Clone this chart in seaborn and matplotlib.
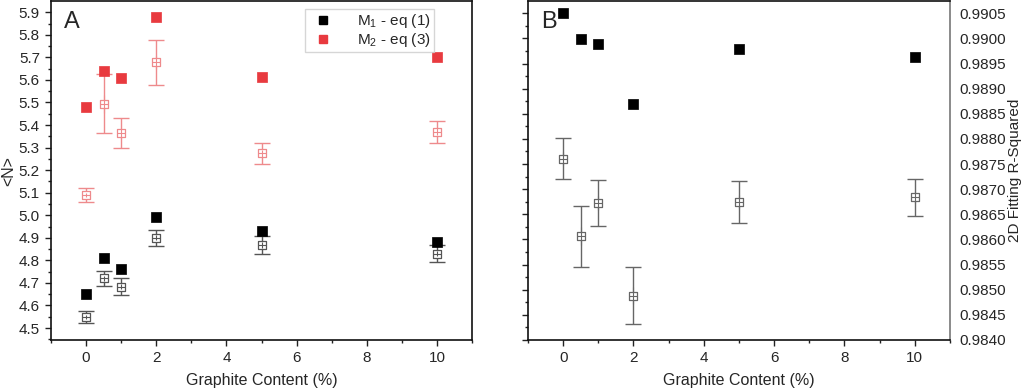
import numpy as np
import pandas as pd
import matplotlib
matplotlib.use("Agg")
import matplotlib.pyplot as plt
from matplotlib.ticker import MultipleLocator, FormatStrFormatter
from matplotlib.lines import Line2D
import seaborn as sns

# ---------------- datos ----------------
graphite = [0, 0.5, 1, 2, 5, 10]

# Panel A: <N>
m1_fill = [4.65, 4.81, 4.76, 4.99, 4.93, 4.88]
m1_fill_err = [0.008, 0.012, 0.012, 0.012, 0.012, 0.012]
m1_open = [4.55, 4.72, 4.683, 4.90, 4.868, 4.83]
m1_open_err = [0.027, 0.032, 0.037, 0.035, 0.038, 0.037]

m2_fill = [5.48, 5.64, 5.61, 5.88, 5.613, 5.70]
m2_fill_err = [0.008, 0.015, 0.015, 0.015, 0.012, 0.012]
m2_open = [5.09, 5.494, 5.363, 5.678, 5.274, 5.37]
m2_open_err = [0.03, 0.13, 0.067, 0.10, 0.047, 0.05]

# Panel B: R^2
r2_fill = [0.99051, 0.98998, 0.98988, 0.98869, 0.98978, 0.98963]
r2_fill_err = [0.00002, 0.00004, 0.00004, 0.00005, 0.00004, 0.00004]
r2_open = [0.98761, 0.98606, 0.98672, 0.98488, 0.98675, 0.98684]
r2_open_err = [0.0004, 0.0006, 0.00046, 0.00057, 0.00042, 0.00037]

RED = "#e83a3f"
LRED = "#ee8a8c"
GREY = "#6e6e6e"

sns.set_style("ticks")
plt.rcParams['font.family'] = ['Liberation Sans', 'DejaVu Sans']
plt.rcParams['mathtext.fontset'] = 'custom'
plt.rcParams['mathtext.rm'] = 'Liberation Sans'
plt.rcParams['mathtext.it'] = 'Liberation Sans'

fig = plt.figure(figsize=(10.24, 3.92), dpi=100)
axA = fig.add_axes([0.0498, 0.1327, 0.4112, 0.8643])
axB = fig.add_axes([0.5156, 0.1327, 0.4121, 0.8643])

def puntos(ax, x, y, err, color, ecolor, filled, size):
    # barras de error con matplotlib, marcadores con seaborn
    ax.errorbar(x, y, yerr=err, fmt="none", ecolor=ecolor, elinewidth=1.0,
                capsize=6 if not filled else 0, capthick=1.0, zorder=2)
    df = pd.DataFrame({"x": x, "y": y})
    if filled:
        sns.scatterplot(data=df, x="x", y="y", ax=ax, marker="s", s=size,
                        color=color, edgecolor=color, linewidth=0.5, zorder=3, legend=False)
    else:
        sns.scatterplot(data=df, x="x", y="y", ax=ax, marker="s", s=size,
                        facecolor="white", edgecolor=ecolor, linewidth=0.9, zorder=3, legend=False)
        ax.errorbar(x, y, yerr=np.array(err) * 0.3, fmt="none", ecolor=ecolor,
                    elinewidth=0.8, zorder=4)
        ax.plot(x, y, ls="none", marker="_", ms=6, color=ecolor, mew=0.8, zorder=4)

# ---- Panel A ----
puntos(axA, graphite, m2_open, m2_open_err, LRED, LRED, False, 38)
puntos(axA, graphite, m1_open, m1_open_err, GREY, "#555555", False, 38)
puntos(axA, graphite, m2_fill, m2_fill_err, RED, RED, True, 48)
puntos(axA, graphite, m1_fill, m1_fill_err, "black", "black", True, 48)

axA.set_xlim(-1, 11)
axA.set_ylim(4.447, 5.949)
axA.xaxis.set_major_locator(MultipleLocator(2))
axA.xaxis.set_minor_locator(MultipleLocator(1))
axA.yaxis.set_major_locator(MultipleLocator(0.1))
axA.yaxis.set_minor_locator(MultipleLocator(0.05))
axA.yaxis.set_major_formatter(FormatStrFormatter("%.1f"))
axA.set_xlabel("Graphite Content (%)", fontsize=11.5, labelpad=6)
axA.set_ylabel("<N>", fontsize=11.5, labelpad=2)
axA.text(0.03, 0.97, "A", transform=axA.transAxes, fontsize=17, va="top", ha="left")

handles = [Line2D([], [], ls="none", marker="s", color="black", ms=6),
           Line2D([], [], ls="none", marker="s", color=RED, ms=6)]
axA.legend(handles, [r"M$_1$ - eq (1)", r"M$_2$ - eq (3)"], loc="upper left",
           bbox_to_anchor=(0.585, 1.0), fontsize=11, frameon=True, fancybox=False,
           edgecolor="#cccccc", handletextpad=1.2, borderpad=0.2, labelspacing=0.1)

# ---- Panel B ----
puntos(axB, graphite, r2_open, r2_open_err, GREY, "#666666", False, 38)
puntos(axB, graphite, r2_fill, r2_fill_err, "black", "black", True, 48)

axB.set_xlim(-1, 11)
axB.set_ylim(0.9840, 0.99074)
axB.xaxis.set_major_locator(MultipleLocator(2))
axB.xaxis.set_minor_locator(MultipleLocator(1))
axB.yaxis.set_major_locator(MultipleLocator(0.0005))
axB.yaxis.set_minor_locator(MultipleLocator(0.00025))
axB.yaxis.set_major_formatter(FormatStrFormatter("%.4f"))
axB.tick_params(axis="y", which="both", left=True, right=False,
                labelleft=False, labelright=True)
axB.yaxis.set_label_position("right")
axB.set_xlabel("Graphite Content (%)", fontsize=11.5, labelpad=6)
axB.set_ylabel("2D Fitting R-Squared", fontsize=11, labelpad=1)
axB.spines["right"].set_color("#777777")
axB.text(0.03, 0.97, "B", transform=axB.transAxes, fontsize=17, va="top", ha="left")

for ax in (axA, axB):
    ax.tick_params(axis="both", which="major", direction="out", length=4,
                   width=1, labelsize=11, color="#222222", pad=4)
    ax.tick_params(axis="both", which="minor", direction="out", length=2.5,
                   width=1, color="#222222")
    for s in ("left", "bottom", "top"):
        ax.spines[s].set_linewidth(1.2)
        ax.spines[s].set_color("#111111")
    ax.spines["right"].set_linewidth(1.2)
    ax.tick_params(axis="x", which="both", top=False)
axA.tick_params(axis="y", which="both", right=False)
axA.spines["right"].set_color("#111111")
axB.tick_params(axis="y", which="major", pad=3)

fig.savefig("out.png", dpi=100)
